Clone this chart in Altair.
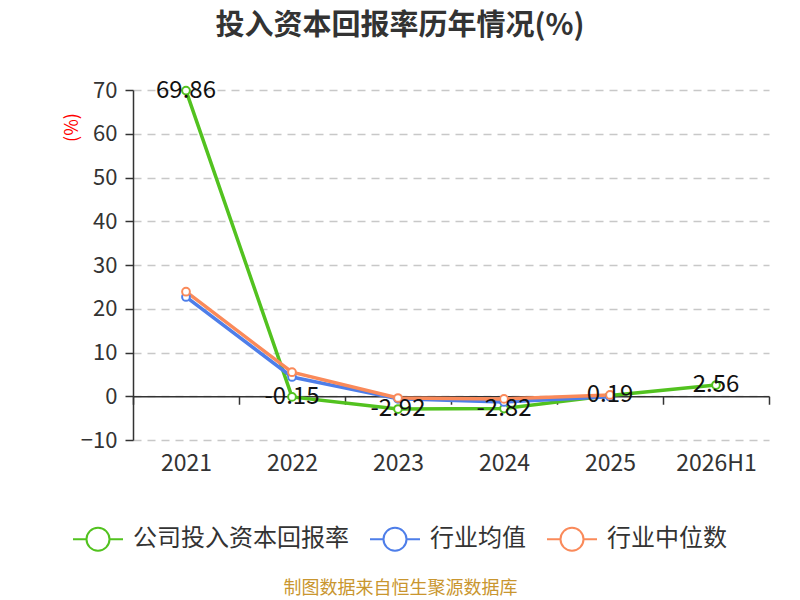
import altair as alt
import pandas as pd

years = ["2021", "2022", "2023", "2024", "2025", "2026H1"]
series_names = ["公司投入资本回报率", "行业均值", "行业中位数"]
company = [69.86, -0.15, -2.92, -2.82, 0.19, 2.56]
industry_avg = [22.7, 4.4, -0.6, -1.3, -0.1, None]
industry_median = [23.9, 5.5, -0.4, -0.6, 0.3, None]
colors = ["#52c21f", "#4e7ee9", "#fa8a5a"]

rows = []
for name, vals in zip(series_names, [company, industry_avg, industry_median]):
    for i, (y, v) in enumerate(zip(years, vals)):
        if v is not None:
            rows.append({"year": y, "series": name, "value": v, "order": i,
                         "label": f"{v:.2f}"})
df = pd.DataFrame(rows)

FONT = "Noto Sans CJK SC"
H = 350
zero_offset = -H * 10 / 80  # axis drawn at y = 0

x_enc = alt.X(
    "year:N",
    scale=alt.Scale(domain=years, paddingInner=0, paddingOuter=0),
    sort=years,
    axis=alt.Axis(
        title="制图数据来自恒生聚源数据库",
        titleColor="#c9962f",
        titleFontSize=18,
        titleFontWeight="normal",
        titleFont=FONT,
        titleX=267,
        titleY=192,
        titleAlign="center",
        titleBaseline="middle",
        offset=zero_offset,
        tickBand="extent",
        tickSize=8,
        tickColor="#333333",
        tickWidth=1.5,
        domainColor="#333333",
        domainWidth=1.5,
        labelAngle=0,
        labelPadding=48,
        labelFontSize=23,
        labelColor="#333333",
        labelFont=FONT,
        grid=False,
    ),
)

y_enc = alt.Y(
    "value:Q",
    scale=alt.Scale(domain=[-10, 70], nice=False, zero=False),
    axis=alt.Axis(
        values=[-10, 0, 10, 20, 30, 40, 50, 60, 70],
        title="(%)",
        titleColor="red",
        titleFontSize=18,
        titleFontWeight="normal",
        titleFont=FONT,
        titleAngle=-90,
        titleX=-61,
        titleY=37,
        titleAlign="center",
        titleBaseline="middle",
        tickSize=8,
        tickColor="#333333",
        tickWidth=1.5,
        domainColor="#333333",
        domainWidth=1.5,
        labelPadding=8,
        labelFontSize=22,
        labelColor="#333333",
        labelFont=FONT,
        grid=True,
        gridColor="#c8c8c8",
        gridDash=[8, 6],
        gridWidth=1.3,
    ),
)

legend_path = ("M-1,0 L-0.46,0 M0.46,0 L1,0 "
               "M0.46,0 A0.46,0.46 0 1,1 -0.46,0 A0.46,0.46 0 1,1 0.46,0")

color_enc = alt.Color(
    "series:N",
    scale=alt.Scale(domain=series_names, range=colors),
    sort=series_names,
    legend=alt.Legend(
        title=None,
        orient="none",
        legendX=-61,
        legendY=423,
        direction="horizontal",
        symbolType=legend_path,
        symbolSize=2500,
        symbolStrokeWidth=2,
        symbolFillColor="white",
        labelFontSize=24,
        labelColor="#333333",
        labelFont=FONT,
        labelOffset=9,
        columnPadding=17,
        labelLimit=400,
    ),
)

base = alt.Chart(df)

lines = base.mark_line(strokeWidth=3.5).encode(
    x=x_enc, y=y_enc, color=color_enc, order="order:Q",
    detail="series:N",
)

points = base.mark_point(filled=True, fill="white", size=60, strokeWidth=2, opacity=1).encode(
    x=alt.X("year:N", sort=years),
    y="value:Q",
    stroke=alt.Stroke("series:N", scale=alt.Scale(domain=series_names, range=colors), legend=None),
)

labels = base.transform_filter(
    alt.datum.series == series_names[0]
).mark_text(fontSize=24, color="#111111", baseline="middle", align="center", font=FONT).encode(
    x=alt.X("year:N", sort=years),
    y="value:Q",
    text="label:N",
)

chart = alt.layer(lines, points, labels).properties(
    width=636,
    height=H,
    padding={"left": 125, "top": 82, "right": 23, "bottom": 160},
    autosize=alt.AutoSizeParams(type="none"),
    title=alt.TitleParams(
        "投入资本回报率历年情况(%)",
        fontSize=29,
        fontWeight="bold",
        color="#333333",
        font=FONT,
        anchor="middle",
        dx=-51,
        offset=38,
    ),
).configure(font=FONT).configure_view(stroke=None)

chart.save("out.html", embed_options={"renderer": "svg", "actions": False})
